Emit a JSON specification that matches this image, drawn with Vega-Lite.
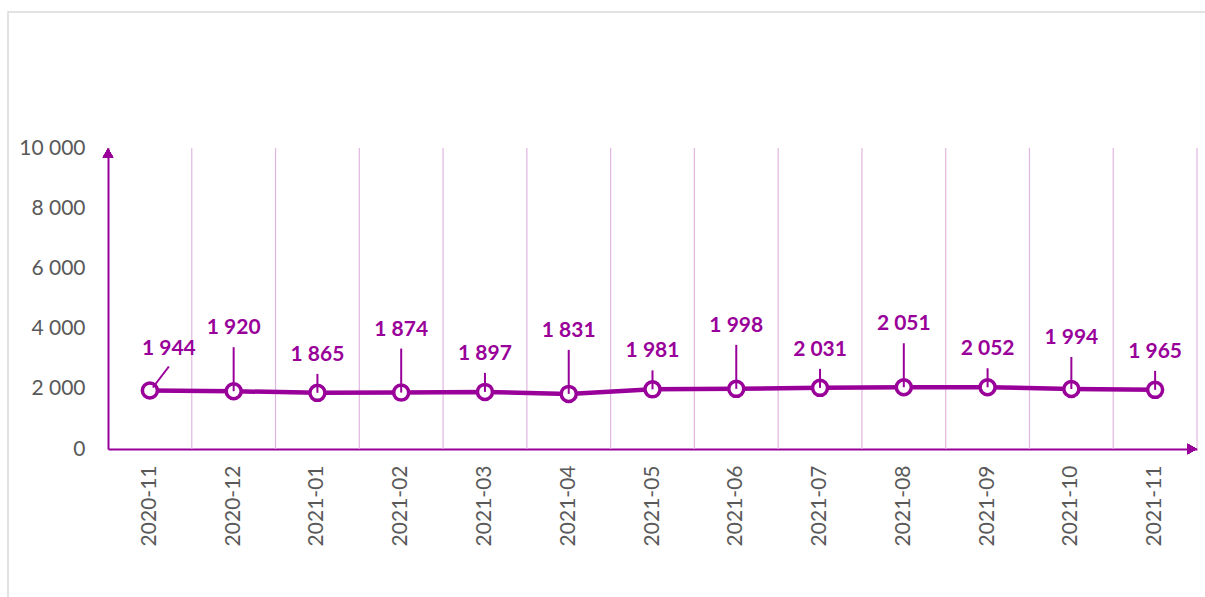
{
  "$schema": "https://vega.github.io/schema/vega-lite/v6.json",
  "width": 1198,
  "height": 586,
  "autosize": {"type": "none"},
  "padding": {"left": 8, "top": 12, "right": -1, "bottom": -1},
  "background": "white",
  "config": {
    "view": {"stroke": "#D9D9D9", "strokeWidth": 1.5},
    "font": "Lato",
    "locale": {"number": {"decimal": ",", "thousands": " ", "grouping": [3], "currency": ["", ""]}}
  },
  "data": {
    "values": [
      {"month": "2020-11", "value": 1944},
      {"month": "2020-12", "value": 1920},
      {"month": "2021-01", "value": 1865},
      {"month": "2021-02", "value": 1874},
      {"month": "2021-03", "value": 1897},
      {"month": "2021-04", "value": 1831},
      {"month": "2021-05", "value": 1981},
      {"month": "2021-06", "value": 1998},
      {"month": "2021-07", "value": 2031},
      {"month": "2021-08", "value": 2051},
      {"month": "2021-09", "value": 2052},
      {"month": "2021-10", "value": 1994},
      {"month": "2021-11", "value": 1965}
    ]
  },
  "encoding": {
    "x": {
      "field": "month", "type": "ordinal", "sort": null,
      "scale": {"type": "band", "range": [100, 1189], "paddingInner": 0, "paddingOuter": 0},
      "axis": {
        "title": null, "offset": -149, "domain": true, "domainColor": "#990099", "domainWidth": 2,
        "ticks": false, "grid": false, "labelAngle": -90, "labelPadding": 16,
        "labelFont": "Lato", "labelFontSize": 21, "labelColor": "#595959"
      }
    },
    "y": {
      "field": "value", "type": "quantitative",
      "scale": {"domain": [0, 10000], "range": [437, 136], "nice": false},
      "axis": {
        "title": null, "offset": -100, "values": [0, 2000, 4000, 6000, 8000, 10000], "format": ",d",
        "domain": true, "domainColor": "#990099", "domainWidth": 2, "ticks": false, "grid": false,
        "labelPadding": 23, "labelFont": "Lato", "labelFontSize": 21, "labelColor": "#595959"
      }
    }
  },
  "layer": [
    {
      "mark": {"type": "rule", "color": "#E2B6E2", "strokeWidth": 1.2},
      "encoding": {
        "x": {"field": "month", "type": "ordinal", "bandPosition": 1},
        "y": {"datum": 0, "type": "quantitative"},
        "y2": {"datum": 10000}
      }
    },
    {
      "mark": {"type": "point", "shape": "triangle-up", "filled": true, "color": "#990099", "size": 110, "yOffset": 5, "opacity": 1},
      "encoding": {
        "x": {"datum": "2020-11", "type": "ordinal", "bandPosition": 0},
        "y": {"datum": 10000, "type": "quantitative"}
      }
    },
    {
      "mark": {"type": "point", "shape": "triangle-right", "filled": true, "color": "#990099", "size": 110, "xOffset": -5, "opacity": 1},
      "encoding": {
        "x": {"datum": "2021-11", "type": "ordinal", "bandPosition": 1},
        "y": {"datum": 0, "type": "quantitative"}
      }
    },
    {
      "mark": {"type": "line", "color": "#990099", "strokeWidth": 4.5}
    },
    {
      "mark": {"type": "point", "shape": "circle", "filled": true, "fill": "white", "stroke": "#990099", "strokeWidth": 3.5, "size": 225, "opacity": 1}
    },
    {
      "transform": [{"filter": {"field": "month", "oneOf": ["2021-01", "2021-03", "2021-05", "2021-07", "2021-09", "2021-11"]}}],
      "layer": [
        {"mark": {"type": "rule", "color": "#990099", "strokeWidth": 2, "y2Offset": -19}, "encoding": {"y2": {"field": "value"}}},
        {"mark": {"type": "text", "color": "#990099", "font": "Lato", "fontWeight": "bold", "fontSize": 21, "baseline": "middle", "dy": -38}, "encoding": {"text": {"field": "value", "type": "quantitative", "format": ",d"}}}
      ]
    },
    {
      "transform": [{"filter": {"field": "month", "oneOf": ["2020-12", "2021-02", "2021-04", "2021-06", "2021-08"]}}],
      "layer": [
        {"mark": {"type": "rule", "color": "#990099", "strokeWidth": 2, "y2Offset": -44}, "encoding": {"y2": {"field": "value"}}},
        {"mark": {"type": "text", "color": "#990099", "font": "Lato", "fontWeight": "bold", "fontSize": 21, "baseline": "middle", "dy": -63}, "encoding": {"text": {"field": "value", "type": "quantitative", "format": ",d"}}}
      ]
    },
    {
      "transform": [{"filter": {"field": "month", "oneOf": ["2021-10"]}}],
      "layer": [
        {"mark": {"type": "rule", "color": "#990099", "strokeWidth": 2, "y2Offset": -32}, "encoding": {"y2": {"field": "value"}}},
        {"mark": {"type": "text", "color": "#990099", "font": "Lato", "fontWeight": "bold", "fontSize": 21, "baseline": "middle", "dy": -51}, "encoding": {"text": {"field": "value", "type": "quantitative", "format": ",d"}}}
      ]
    },
    {
      "transform": [{"filter": {"field": "month", "oneOf": ["2020-11"]}}],
      "layer": [
        {"mark": {"type": "rule", "color": "#990099", "strokeWidth": 2, "xOffset": 3, "yOffset": -3, "x2Offset": 19, "y2Offset": -24}, "encoding": {"x2": {"field": "month"}, "y2": {"field": "value"}}},
        {"mark": {"type": "text", "color": "#990099", "font": "Lato", "fontWeight": "bold", "fontSize": 21, "baseline": "middle", "dy": -41, "dx": 19}, "encoding": {"text": {"field": "value", "type": "quantitative", "format": ",d"}}}
      ]
    }
  ]
}
